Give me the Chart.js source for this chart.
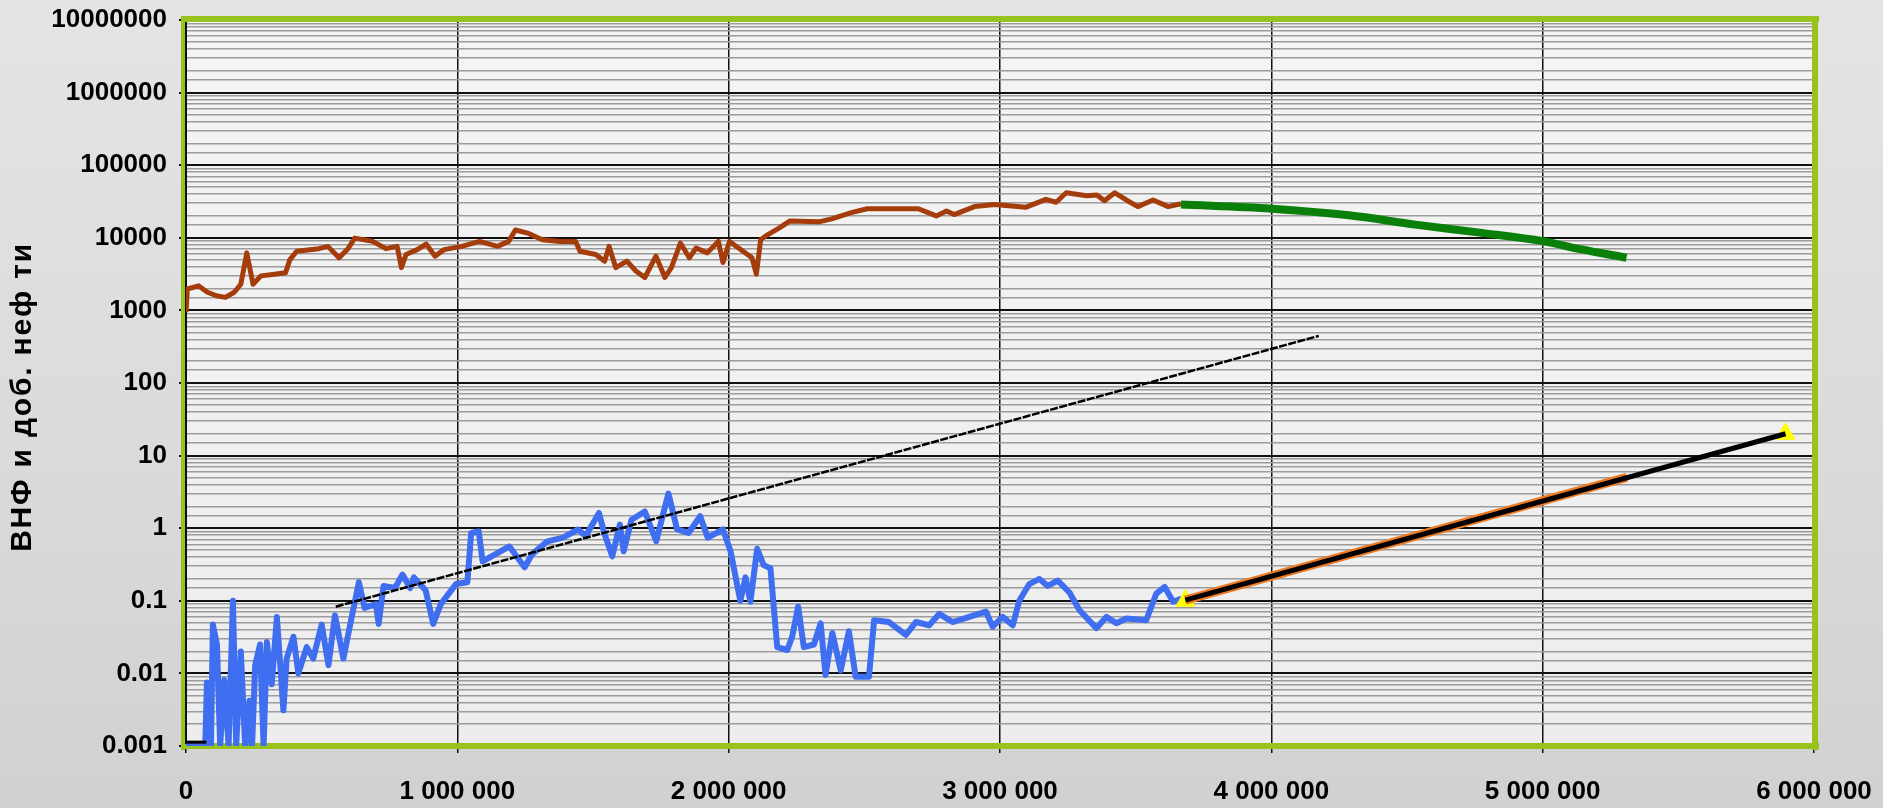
<!DOCTYPE html>
<html>
<head>
<meta charset="utf-8">
<script src="https://cdn.jsdelivr.net/npm/chart.js@4.4.1/dist/chart.umd.min.js"></script>
<style>
  html, body { margin: 0; padding: 0; overflow: hidden; }
  body { width: 1883px; height: 808px; background: linear-gradient(180deg, #e4e4e4 0%, #dbdbdb 55%, #d1d1d1 100%); }
  #wrap { position: absolute; left: 0; top: 0; width: 1883px; height: 808px; }
</style>
</head>
<body>
<div id="wrap"><canvas id="chart" width="1883" height="808"></canvas></div>
<script>
// cumulative production (x) vs water-oil ratio / oil (log y)
const yTitle = 'ВНФ и доб. неф ти';
const xTicks = [0, 1000000, 2000000, 3000000, 4000000, 5000000, 6000000];

// brown: oil, history
const brownX = [0, 5000, 46000, 79000, 112000, 145000, 178000, 202000, 224000, 247000, 276000, 326000, 367000, 383000, 408000, 490000, 523000, 564000, 597000, 622000, 688000, 737000, 778000, 794000, 811000, 852000, 885000, 918000, 951000, 1016000, 1082000, 1148000, 1189000, 1214000, 1263000, 1313000, 1378000, 1436000, 1452000, 1510000, 1543000, 1559000, 1584000, 1625000, 1658000, 1691000, 1732000, 1765000, 1789000, 1822000, 1855000, 1880000, 1921000, 1962000, 1979000, 2003000, 2053000, 2086000, 2102000, 2118000, 2143000, 2184000, 2225000, 2332000, 2380000, 2455000, 2511000, 2699000, 2765000, 2803000, 2831000, 2906000, 2981000, 3094000, 3169000, 3207000, 3244000, 3320000, 3357000, 3385000, 3423000, 3470000, 3508000, 3564000, 3620000, 3667000];
const brownY = [950, 1970, 2180, 1780, 1590, 1510, 1780, 2290, 6200, 2290, 2990, 3150, 3310, 5000, 6520, 7090, 7620, 5300, 7090, 9900, 8920, 7090, 7620, 3880, 5890, 6870, 8200, 5590, 6870, 7620, 8920, 7620, 8920, 12800, 11500, 9400, 8920, 8920, 6520, 5900, 4770, 7620, 3880, 4770, 3490, 2840, 5590, 2840, 3880, 8460, 5300, 7240, 6200, 8920, 4570, 8920, 6520, 5300, 3150, 9400, 11000, 13500, 17000, 16600, 18200, 22400, 25100, 25100, 20000, 23400, 20900, 26900, 28800, 26300, 33900, 30900, 41700, 38000, 38900, 32400, 41700, 32400, 26900, 33100, 26900, 29500];

// green: oil, forecast
const greenX = [3667000, 4000000, 4286000, 4531000, 4776000, 5000000, 5143000, 5309000];
const greenY = [28700, 25200, 20400, 15200, 11700, 9000, 6920, 5320];

// blue: water-oil ratio, history
const blueX = [0, 71000, 77000, 92000, 99000, 114000, 126000, 141000, 157000, 173000, 185000, 202000, 218000, 234000, 243000, 255000, 273000, 286000, 298000, 316000, 335000, 359000, 371000, 396000, 414000, 445000, 469000, 500000, 525000, 549000, 580000, 604000, 637000, 658000, 700000, 710000, 728000, 770000, 798000, 826000, 840000, 883000, 911000, 939000, 995000, 1037000, 1051000, 1079000, 1093000, 1136000, 1192000, 1248000, 1276000, 1332000, 1389000, 1445000, 1473000, 1522000, 1543000, 1571000, 1599000, 1613000, 1642000, 1691000, 1733000, 1761000, 1778000, 1810000, 1852000, 1895000, 1923000, 1979000, 2007000, 2043000, 2062000, 2080000, 2105000, 2129000, 2154000, 2179000, 2216000, 2234000, 2256000, 2277000, 2314000, 2339000, 2357000, 2382000, 2413000, 2443000, 2468000, 2517000, 2536000, 2591000, 2653000, 2690000, 2739000, 2776000, 2825000, 2887000, 2948000, 2973000, 3010000, 3047000, 3071000, 3108000, 3145000, 3176000, 3213000, 3256000, 3293000, 3355000, 3392000, 3429000, 3466000, 3539000, 3576000, 3607000, 3638000, 3669000];
const blueY = [0.001, 0.001, 0.0075, 0.001, 0.047, 0.025, 0.001, 0.0081, 0.001, 0.1, 0.001, 0.02, 0.001, 0.0042, 0.0009, 0.013, 0.025, 0.001, 0.027, 0.0071, 0.06, 0.0031, 0.016, 0.032, 0.01, 0.023, 0.016, 0.047, 0.013, 0.063, 0.016, 0.045, 0.18, 0.08, 0.09, 0.048, 0.16, 0.15, 0.23, 0.15, 0.21, 0.14, 0.048, 0.09, 0.17, 0.18, 0.86, 0.9, 0.35, 0.43, 0.56, 0.29, 0.44, 0.66, 0.74, 0.96, 0.78, 1.62, 0.82, 0.41, 1.12, 0.48, 1.31, 1.7, 0.66, 1.7, 3.0, 0.96, 0.86, 1.46, 0.74, 0.96, 0.48, 0.1, 0.21, 0.097, 0.52, 0.31, 0.28, 0.023, 0.021, 0.032, 0.083, 0.023, 0.025, 0.049, 0.0095, 0.036, 0.011, 0.038, 0.009, 0.009, 0.054, 0.051, 0.034, 0.051, 0.046, 0.066, 0.051, 0.06, 0.071, 0.044, 0.06, 0.046, 0.1, 0.17, 0.2, 0.16, 0.19, 0.13, 0.074, 0.042, 0.06, 0.049, 0.057, 0.054, 0.126, 0.155, 0.097, 0.107];

// thin dashed trend
const trendX = [552000, 4175000];
const trendY = [0.083, 446];

// forecast of water-oil ratio (black) and its orange part
const fcX = [3683000, 5895000];
const fcY = [0.102, 20];
const orangeX = [3683000, 5310000];
const orangeY = [0.102, 5.0];

// yellow end markers
const markX = [3683000, 5895000];
const markY = [0.1, 20];

// short black stub at the bottom left
const stubX = [0, 75000];
const stubY = [0.00113, 0.00113];

function pts(xs, ys) { return xs.map((x, i) => ({ x: x, y: ys[i] })); }
const isDecade = v => { const l = Math.log10(v); return Math.abs(l - Math.round(l)) < 1e-6; };
const FONT = '"Liberation Sans", Arial, sans-serif';

const plotFrame = {
  id: 'plotFrame',
  beforeDraw(chart) {
    const a = chart.chartArea, ctx = chart.ctx;
    ctx.save();
    const g = ctx.createLinearGradient(0, a.top, 0, a.bottom);
    g.addColorStop(0, '#f4f4f4');
    g.addColorStop(1, '#ededed');
    ctx.fillStyle = g;
    ctx.fillRect(a.left, a.top, a.right - a.left, a.bottom - a.top);
    ctx.restore();
  },
  beforeDatasetsDraw(chart) {
    const a = chart.chartArea, ctx = chart.ctx;
    const w = a.right - a.left, h = a.bottom - a.top;
    ctx.save();
    ctx.fillStyle = '#98c31c';
    ctx.fillRect(a.left - 5, a.top - 4, w + 10, 6);
    ctx.fillRect(a.left - 5, a.bottom - 3, w + 10, 6);
    ctx.fillRect(a.left - 5, a.top - 4, 4, h + 8);
    ctx.fillRect(a.right - 2, a.top - 4, 6, h + 8);
    ctx.fillStyle = '#111';
    ctx.fillRect(a.left - 1, a.top + 2, 2, h - 4);
    ctx.restore();
  },
  afterDraw(chart) {
    const ctx = chart.ctx;
    ctx.save();
    ctx.translate(23, 397);
    ctx.rotate(-Math.PI / 2);
    ctx.font = 'bold 30px ' + FONT;
    ctx.letterSpacing = '1.8px';
    ctx.fillStyle = '#000';
    ctx.textAlign = 'center';
    ctx.textBaseline = 'middle';
    ctx.fillText(yTitle, 0, 0);
    ctx.restore();
  }
};

new Chart(document.getElementById('chart'), {
  type: 'line',
  data: {
    datasets: [
      { data: pts(stubX, stubY), borderColor: '#000', borderWidth: 3, pointRadius: 0 },
      { data: pts(fcX, fcY), borderColor: '#000', borderWidth: 5, pointRadius: 0 },
      { data: pts(orangeX, orangeY), borderColor: '#ee7a22', borderWidth: 9, pointRadius: 0 },
      { data: pts(markX, markY), showLine: false, pointStyle: 'triangle', pointRadius: 11,
        backgroundColor: '#ffff00', borderColor: '#ffff00', borderWidth: 1 },
      { data: pts(trendX, trendY), borderColor: '#000', borderWidth: 2.5, borderDash: [8, 1.5], pointRadius: 0 },
      { data: pts(blueX, blueY), borderColor: '#3f6ff0', borderWidth: 6, pointRadius: 0, borderJoinStyle: 'round' },
      { data: pts(greenX, greenY), borderColor: '#0a800a', borderWidth: 8, pointRadius: 0, cubicInterpolationMode: 'monotone' },
      { data: pts(brownX, brownY), borderColor: '#a53c0c', borderWidth: 5, pointRadius: 0, borderJoinStyle: 'round' }
    ]
  },
  options: {
    responsive: false,
    devicePixelRatio: 1,
    animation: false,
    layout: { padding: { top: 20, right: 69, left: 0, bottom: 0 } },
    plugins: { legend: { display: false }, tooltip: { enabled: false } },
    scales: {
      x: {
        type: 'linear',
        min: 0,
        max: 6000000,
        afterFit: s => { s.height = 62; s.paddingLeft = 0; s.paddingRight = 0; },
        afterBuildTicks: s => { s.ticks = xTicks.map(v => ({ value: v })); },
        grid: { color: '#111', lineWidth: 1.5, tickColor: '#111', tickLength: 7 },
        border: { display: false },
        ticks: {
          maxRotation: 0,
          autoSkip: false,
          padding: 23,
          color: '#000',
          font: { family: FONT, size: 26, weight: 'bold' },
          callback: v => String(v).replace(/\B(?=(\d{3})+(?!\d))/g, ' ')
        }
      },
      y: {
        type: 'logarithmic',
        min: 0.001,
        max: 10000000,
        afterFit: s => { s.width = 186; s.paddingTop = 0; s.paddingBottom = 0; },
        grid: {
          color: c => isDecade(c.tick.value) ? '#111' : '#9c9c9c',
          lineWidth: c => isDecade(c.tick.value) ? 2 : 1.5,
          tickColor: c => isDecade(c.tick.value) ? '#111' : 'rgba(0,0,0,0)',
          tickLength: 7
        },
        border: { display: false },
        ticks: {
          autoSkip: false,
          padding: 12,
          color: '#000',
          font: { family: FONT, size: 26, weight: 'bold' },
          callback: v => {
            if (!isDecade(v)) return '';
            const e = Math.round(Math.log10(v));
            return e >= 0 ? String(Math.pow(10, e)) : Math.pow(10, e).toFixed(-e);
          }
        }
      }
    }
  },
  plugins: [plotFrame]
});
</script>
</body>
</html>
